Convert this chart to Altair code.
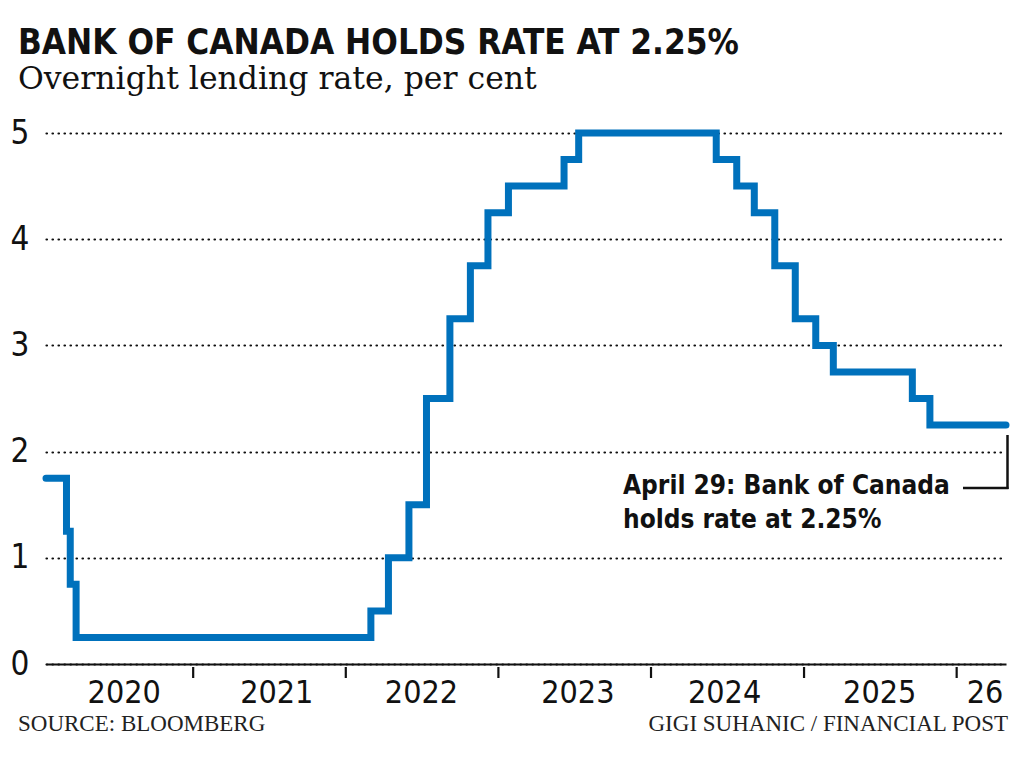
import altair as alt
import pandas as pd

# ---- data -------------------------------------------------------------
change_dates = ["2020-01-15", "2020-03-04", "2020-03-13", "2020-03-27",
                "2022-03-02", "2022-04-13", "2022-06-01", "2022-07-13",
                "2022-09-07", "2022-10-26", "2022-12-07", "2023-01-25",
                "2023-06-07", "2023-07-12", "2024-06-05", "2024-07-24",
                "2024-09-04", "2024-10-23", "2024-12-11", "2025-01-29",
                "2025-03-12", "2025-09-17", "2025-10-29", "2026-04-29"]
rates = [1.75, 1.25, 0.75, 0.25,
         0.5, 1.0, 1.5, 2.5,
         3.25, 3.75, 4.25, 4.5,
         4.75, 5.0, 4.75, 4.5,
         4.25, 3.75, 3.25, 3.0,
         2.75, 2.5, 2.25, 2.25]

year_labels = ["2020", "2021", "2022", "2023", "2024", "2025", "26"]
year_label_dates = ["2020-07-20", "2021-07-20", "2022-07-01", "2023-07-10",
                    "2024-06-25", "2025-07-01", "2026-03-10"]
year_tick_dates = ["2021-01-01", "2022-01-01", "2023-01-01",
                   "2024-01-01", "2025-01-01", "2026-01-01"]
y_ticks = [0, 1, 2, 3, 4, 5]

title_text = "BANK OF CANADA HOLDS RATE AT 2.25%"
subtitle_text = "Overnight lending rate, per cent"
source_text = "SOURCE: BLOOMBERG"
credit_text = "GIGI SUHANIC / FINANCIAL POST"
note_lines = ["April 29: Bank of Canada", "holds rate at 2.25%"]

# ---- styling ----------------------------------------------------------
BLUE = "#0071BC"
INK = "#111111"
COND = "'DejaVu Sans Condensed', 'Liberation Sans Narrow', Roboto, sans-serif"
SERIF = "'DejaVu Serif', Georgia, serif"
FOOT_SERIF = "'Liberation Serif', 'Times New Roman', serif"

W, H = 960, 531

df = pd.DataFrame({"date": change_dates, "rate": rates})
labels_df = pd.DataFrame({"date": year_label_dates, "label": year_labels})
ticks_df = pd.DataFrame({"date": year_tick_dates})
one = pd.DataFrame({"k": [0]})

x_scale = alt.Scale(type="utc",
                    domain=[alt.DateTime(year=2020, month=1, date=15, utc=True),
                            alt.DateTime(year=2026, month=4, date=29, utc=True)])
y_scale = alt.Scale(domain=[0, 5], nice=False, zero=True)

line = alt.Chart(df).mark_line(
    interpolate="step-after", color=BLUE, strokeWidth=7,
    strokeCap="round", strokeJoin="miter", clip=False
).encode(
    x=alt.X("date:T", scale=x_scale,
            axis=alt.Axis(title=None, labels=False, ticks=False, grid=False,
                          domain=True, domainColor=INK, domainWidth=2.2)),
    y=alt.Y("rate:Q", scale=y_scale,
            axis=alt.Axis(title=None, values=y_ticks, domain=False, ticks=False,
                          labelFont=COND, labelFontSize=33, labelColor=INK,
                          labelPadding=17, labelBaseline="middle",
                          grid=True, gridColor=INK, gridWidth=2.2,
                          gridDash=[0.5, 5.5], gridCap="round")),
)

ticks = alt.Chart(ticks_df).mark_rule(color=INK, strokeWidth=2.2).encode(
    x=alt.X("date:T", scale=x_scale),
    y=alt.value(H + 3),
    y2=alt.value(H + 14),
)

year_text = alt.Chart(labels_df).mark_text(
    font=COND, fontSize=32, color=INK, align="center", baseline="alphabetic"
).encode(
    x=alt.X("date:T", scale=x_scale),
    y=alt.value(H + 39),
    text="label:N",
)

title = alt.Chart(one).mark_text(
    text=title_text, font=COND, fontSize=34.8, fontWeight="bold", color=INK,
    align="left", baseline="alphabetic"
).encode(x=alt.value(-28), y=alt.value(-79))

subtitle = alt.Chart(one).mark_text(
    text=subtitle_text, font=SERIF, fontSize=31.5, color=INK,
    align="left", baseline="alphabetic"
).encode(x=alt.value(-28), y=alt.value(-44))

source = alt.Chart(one).mark_text(
    text=source_text, font=FOOT_SERIF, fontSize=23, color="#222",
    align="left", baseline="alphabetic"
).encode(x=alt.value(-28), y=alt.value(H + 67))

credit = alt.Chart(one).mark_text(
    text=credit_text, font=FOOT_SERIF, fontSize=23, color="#222",
    align="right", baseline="alphabetic"
).encode(x=alt.value(962), y=alt.value(H + 67))

note = alt.Chart(one).mark_text(
    text=note_lines, font=COND, fontSize=26, fontWeight="bold", color=INK,
    align="left", baseline="alphabetic", lineHeight=34
).encode(x=alt.value(577), y=alt.value(361))

leader_v = alt.Chart(one).mark_rule(color=INK, strokeWidth=2.5).encode(
    x=alt.value(961.5), y=alt.value(302), y2=alt.value(356))
leader_h = alt.Chart(one).mark_rule(color=INK, strokeWidth=2.5).encode(
    x=alt.value(917), x2=alt.value(962.5), y=alt.value(355))

chart = alt.layer(
    line, ticks, year_text, title, subtitle, source, credit, note,
    leader_v, leader_h
).properties(
    width=W, height=H,
    autosize=alt.AutoSizeParams(type="none"),
    padding={"left": 38, "top": 125, "right": 8, "bottom": 80},
    background="white",
).configure_view(stroke=None)

chart.save("out.html", embed_options={"renderer": "svg", "actions": False})
